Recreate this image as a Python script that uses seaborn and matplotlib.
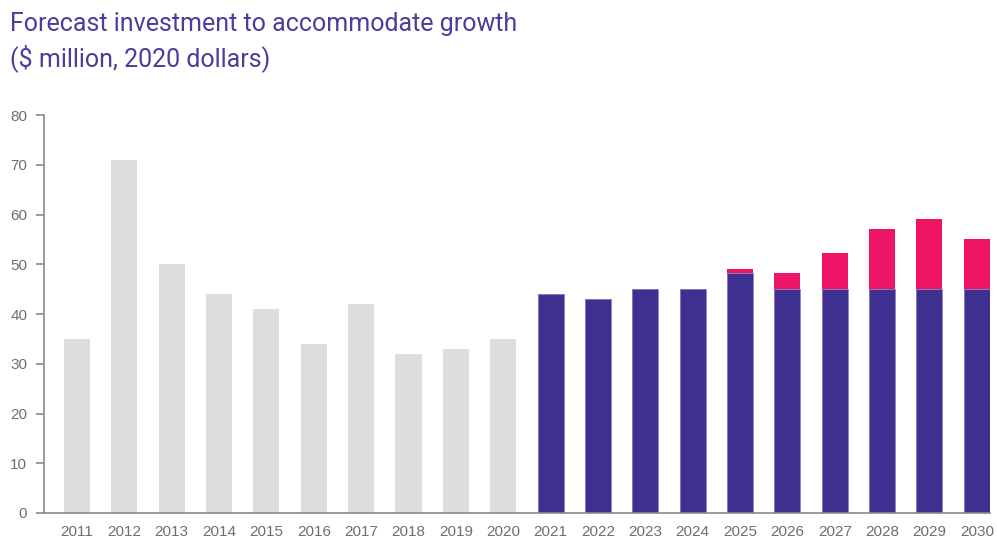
import matplotlib
matplotlib.use("Agg")
import matplotlib.pyplot as plt
import seaborn as sns
import pandas as pd

years = [str(y) for y in range(2011, 2031)]
base = [35, 71, 50, 44, 41, 34, 42, 32, 33, 35,
        44, 43, 45, 45, 48.2, 45, 45, 45, 45, 45]
growth = [0, 0, 0, 0, 0, 0, 0, 0, 0, 0,
          0, 0, 0, 0, 0.8, 3.2, 7.2, 12, 14, 10]
y_ticks = [0, 10, 20, 30, 40, 50, 60, 70, 80]

GREY = "#dcdddf"
BLUE = "#3d3090"
PINK = "#ee1566"
TITLE = "#4b3d9c"
AXIS = "#8a8a8a"

df = pd.DataFrame({"year": years, "base": base, "growth": growth})
df["total"] = df["base"] + df["growth"]
base_colors = [GREY] * 10 + [BLUE] * 10

sns.set_theme(style="white")
plt.rcParams["font.family"] = ["Liberation Sans", "DejaVu Sans"]

fig = plt.figure(figsize=(9.97, 5.4), dpi=100)
ax = fig.add_axes([0.044, 0.05, 0.949, 0.737])

# growth-driven investment stacked on top of the base programme
sns.barplot(data=df, x="year", y="total", color=PINK, width=0.55,
            linewidth=0, ax=ax, saturation=1)
sns.barplot(data=df, x="year", y="base", hue="year", palette=base_colors,
            legend=False, width=0.55, linewidth=0, ax=ax, saturation=1)
# soft lavender outline on the forecast bars
for patch, c in zip(ax.patches[len(years):], base_colors):
    if c == BLUE:
        patch.set_edgecolor("#8f86c4")
        patch.set_linewidth(0.6)

ax.set_ylim(0, 80)
ax.set_xlim(-0.7, 19.28)
ax.set_yticks(y_ticks)
ax.set_xlabel("")
ax.set_ylabel("")
for s in ["top", "right"]:
    ax.spines[s].set_visible(False)
for s in ["left", "bottom"]:
    ax.spines[s].set_color(AXIS)
    ax.spines[s].set_linewidth(1.2)
ax.tick_params(axis="y", which="both", left=True, length=6, width=1.2,
               color=AXIS, labelcolor="#6e6e6e", labelsize=11, pad=6)
ax.tick_params(axis="x", bottom=False, labelcolor="#6e6e6e", labelsize=11, pad=3)

fig.text(0.01, 0.978, "Forecast investment to accommodate growth\n($ million, 2020 dollars)",
         ha="left", va="top", fontsize=18, color=TITLE, linespacing=1.35,
         family=["Roboto", "DejaVu Sans"], fontweight="normal")

fig.savefig("out.png", dpi=100)
